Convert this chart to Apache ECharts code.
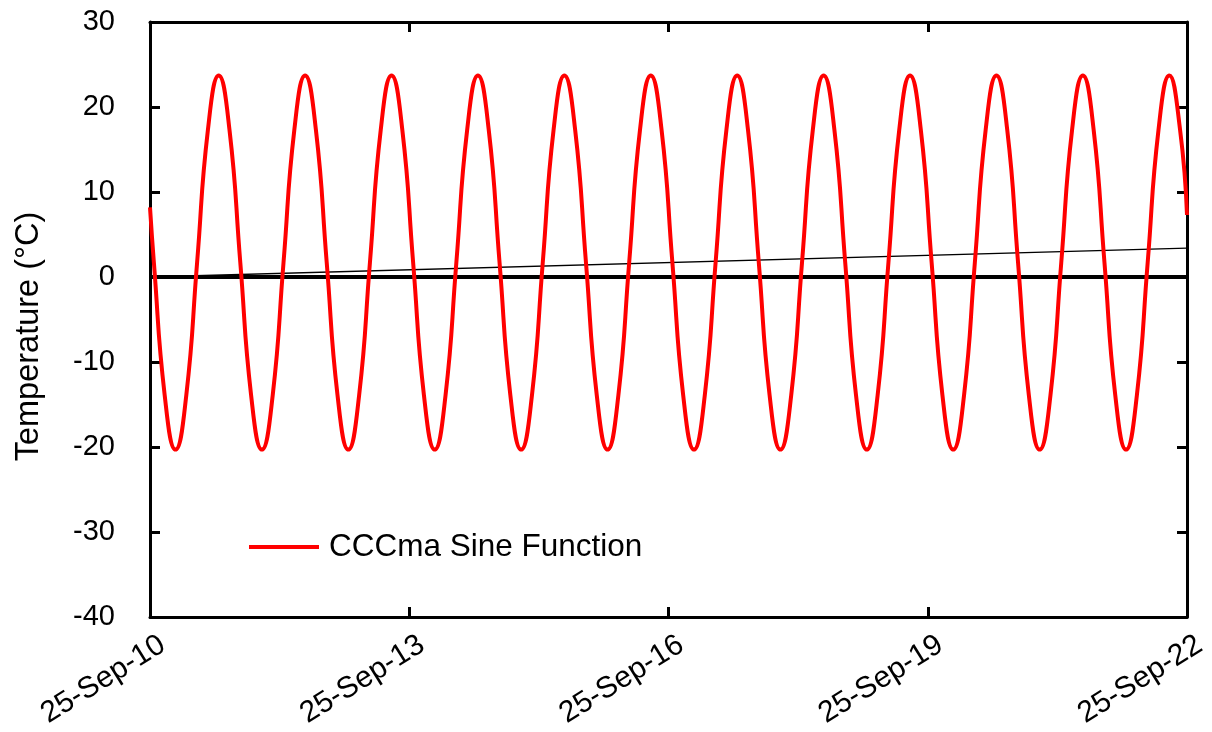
<!DOCTYPE html>
<html>
<head>
<meta charset="utf-8">
<title>CCCma Sine Function</title>
<script src="https://cdn.jsdelivr.net/npm/echarts@6/dist/echarts.min.js"></script>
<style>
  html, body { margin: 0; padding: 0; background: #fff; }
  #chart { width: 1212px; height: 732px; }
</style>
</head>
<body>
<div id="chart"></div>
<script>
// Time in years since 25-Sep-2010
var sineTimes = [
  0, 0.045, 0.17, 0.295, 0.42, 0.545, 0.67,
  0.795, 0.92, 1.045, 1.17, 1.295, 1.42, 1.545, 1.67,
  1.795, 1.92, 2.045, 2.17, 2.295, 2.42, 2.545, 2.67,
  2.795, 2.92, 3.045, 3.17, 3.295, 3.42, 3.545, 3.67,
  3.795, 3.92, 4.045, 4.17, 4.295, 4.42, 4.545, 4.67,
  4.795, 4.92, 5.045, 5.17, 5.295, 5.42, 5.545, 5.67,
  5.795, 5.92, 6.045, 6.17, 6.295, 6.42, 6.545, 6.67,
  6.795, 6.92, 7.045, 7.17, 7.295, 7.42, 7.545, 7.67,
  7.795, 7.92, 8.045, 8.17, 8.295, 8.42, 8.545, 8.67,
  8.795, 8.92, 9.045, 9.17, 9.295, 9.42, 9.545, 9.67,
  9.795, 9.92, 10.045, 10.17, 10.295, 10.42, 10.545, 10.67,
  10.795, 10.92, 11.045, 11.17, 11.295, 11.42, 11.545, 11.67,
  11.795, 11.92, 12
];
// Temperature (°C) of the sine curve at those times
var sineTemps = [
  8.2, 1.7, -13.9, -20.3, -13.9, 1.7, 17.3,
  23.7, 17.3, 1.7, -13.9, -20.3, -13.9, 1.7, 17.3,
  23.7, 17.3, 1.7, -13.9, -20.3, -13.9, 1.7, 17.3,
  23.7, 17.3, 1.7, -13.9, -20.3, -13.9, 1.7, 17.3,
  23.7, 17.3, 1.7, -13.9, -20.3, -13.9, 1.7, 17.3,
  23.7, 17.3, 1.7, -13.9, -20.3, -13.9, 1.7, 17.3,
  23.7, 17.3, 1.7, -13.9, -20.3, -13.9, 1.7, 17.3,
  23.7, 17.3, 1.7, -13.9, -20.3, -13.9, 1.7, 17.3,
  23.7, 17.3, 1.7, -13.9, -20.3, -13.9, 1.7, 17.3,
  23.7, 17.3, 1.7, -13.9, -20.3, -13.9, 1.7, 17.3,
  23.7, 17.3, 1.7, -13.9, -20.3, -13.9, 1.7, 17.3,
  23.7, 17.3, 1.7, -13.9, -20.3, -13.9, 1.7, 17.3,
  23.7, 17.3, 7.3
];
// Linear trend and the zero reference line
var trendTimes = [0, 12];
var trendTemps = [0, 3.4];
var zeroTimes = [0, 12];
var zeroTemps = [0, 0];

var xTickLabels = ['25-Sep-10', '25-Sep-13', '25-Sep-16', '25-Sep-19', '25-Sep-22'];
var seriesName = 'CCCma Sine Function';
var yAxisTitle = 'Temperature (°C)';

function pairs(xs, ys) {
  return xs.map(function (x, i) { return [x, ys[i]]; });
}

var FONT = 'Arial, "Liberation Sans", sans-serif';
var frameLine = { show: true, onZero: false, lineStyle: { color: '#000', width: 3 } };
var innerTick = { show: true, inside: true, length: 10, lineStyle: { color: '#000', width: 3 } };

var chart = echarts.init(document.getElementById('chart'), null, { renderer: 'canvas' });
chart.setOption({
  animation: false,
  backgroundColor: '#fff',
  grid: { left: 150, right: 25, top: 22, bottom: 115, containLabel: false, outerBoundsMode: 'none' },
  legend: {
    left: 249,
    top: 531,
    padding: 0,
    data: [{ name: seriesName, icon: 'rect' }],
    itemWidth: 70,
    itemHeight: 4,
    textStyle: { fontFamily: FONT, fontSize: 31.5, color: '#000', padding: [0, 0, 0, 5], lineHeight: 30 }
  },
  xAxis: [
    {
      type: 'value', min: 0, max: 12, interval: 3, position: 'bottom',
      axisLine: frameLine, axisTick: innerTick, splitLine: { show: false },
      axisLabel: {
        rotate: 32, margin: 5, align: 'right', verticalAlign: 'top', lineHeight: 48,
        fontFamily: FONT, fontSize: 30, color: '#000',
        showMinLabel: true, showMaxLabel: true,
        formatter: function (v) { return xTickLabels[Math.round(v / 3)]; }
      }
    },
    {
      type: 'value', min: 0, max: 12, interval: 3, position: 'top',
      axisLine: frameLine, axisTick: innerTick, splitLine: { show: false },
      axisLabel: { show: false }
    }
  ],
  yAxis: [
    {
      type: 'value', min: -40, max: 30, interval: 10, position: 'left',
      name: yAxisTitle, nameLocation: 'middle', nameGap: 104, nameRotate: 90,
      nameTextStyle: { fontFamily: FONT, fontSize: 32.5, color: '#000', padding: [0, 34, 0, 0] },
      axisLine: frameLine, axisTick: innerTick, splitLine: { show: false },
      axisLabel: { margin: 35, fontFamily: FONT, fontSize: 29, color: '#000' }
    },
    {
      type: 'value', min: -40, max: 30, interval: 10, position: 'right',
      axisLine: frameLine, axisTick: innerTick, splitLine: { show: false },
      axisLabel: { show: false }
    }
  ],
  series: [
    {
      name: 'zero', type: 'line', data: pairs(zeroTimes, zeroTemps),
      showSymbol: false, silent: true,
      lineStyle: { color: '#000', width: 4 }, z: 2
    },
    {
      name: 'trend', type: 'line', data: pairs(trendTimes, trendTemps),
      showSymbol: false, silent: true,
      lineStyle: { color: '#000', width: 1.3 }, z: 3
    },
    {
      name: seriesName, type: 'line', data: pairs(sineTimes, sineTemps),
      smooth: 0.5, showSymbol: false,
      itemStyle: { color: '#FF0000' },
      lineStyle: { color: '#FF0000', width: 4 }, z: 4
    }
  ]
});
</script>
</body>
</html>
